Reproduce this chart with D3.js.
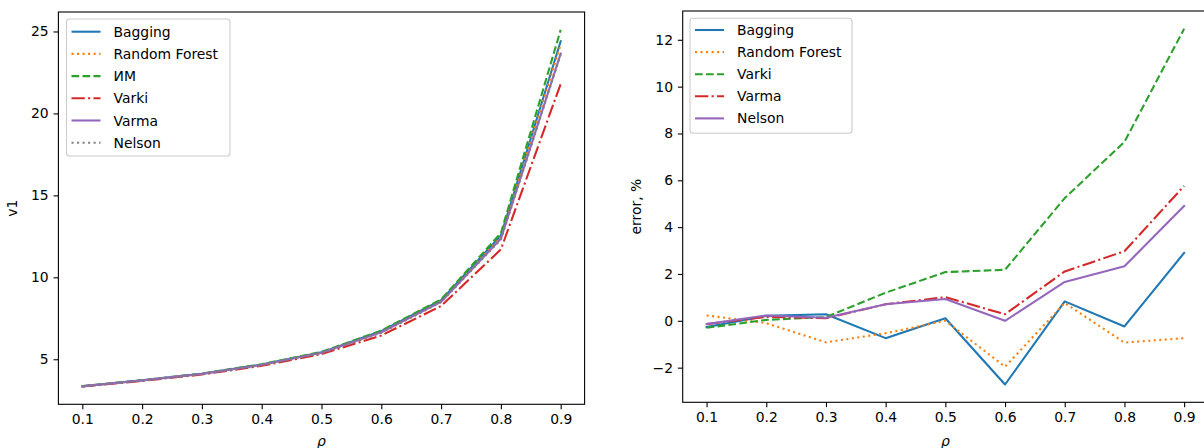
<!DOCTYPE html>
<html>
<head>
<meta charset="utf-8">
<script src="https://cdn.jsdelivr.net/npm/d3@7"></script>
<style>
  body { margin: 0; background: #fff; }
  svg text { font-family: "DejaVu Sans", sans-serif; fill: #000; }
</style>
</head>
<body>
<script>
'use strict'

// x values (rho) shared by both panels
const rho = [0.1, 0.2, 0.3, 0.4, 0.5, 0.6, 0.7, 0.8, 0.9]

// left panel: v1
const v1Names = ['Bagging', 'Random Forest', 'ИМ', 'Varki', 'Varma', 'Nelson']
const v1Bagging = [3.35, 3.72, 4.12, 4.68, 5.42, 6.72, 8.60, 12.55, 24.40]
const v1RandomForest = [3.36, 3.71, 4.11, 4.66, 5.40, 6.65, 8.55, 12.45, 24.20]
const v1IM = [3.36, 3.72, 4.13, 4.70, 5.45, 6.75, 8.65, 12.70, 25.10]
const v1Varki = [3.34, 3.68, 4.07, 4.60, 5.32, 6.45, 8.25, 11.70, 21.80]
const v1Varma = [3.35, 3.71, 4.11, 4.66, 5.40, 6.65, 8.50, 12.35, 23.65]
const v1Nelson = [3.35, 3.70, 4.10, 4.65, 5.38, 6.62, 8.48, 12.30, 23.60]
const v1Ticks = [5, 10, 15, 20, 25]

// right panel: error, %
const errNames = ['Bagging', 'Random Forest', 'Varki', 'Varma', 'Nelson']
const errBagging = [-0.27, 0.21, 0.28, -0.74, 0.11, -2.72, 0.83, -0.24, 2.90]
const errRandomForest = [0.23, -0.10, -0.92, -0.53, 0.00, -1.96, 0.76, -0.93, -0.74]
const errVarki = [-0.30, 0.04, 0.16, 1.20, 2.08, 2.18, 5.24, 7.64, 12.47]
const errVarma = [-0.14, 0.17, 0.11, 0.71, 1.01, 0.28, 2.11, 2.97, 5.76]
const errNelson = [-0.14, 0.23, 0.13, 0.71, 0.93, 0.00, 1.66, 2.33, 4.90]
const errTicks = [-2, 0, 2, 4, 6, 8, 10, 12]

// line styles (matplotlib defaults, lw 1.5pt at 100dpi)
const styles = {
  'Bagging':       { color: '#1f77b4', dash: null },
  'Random Forest': { color: '#ff7f0e', dash: '2.08,3.44' },
  'ИМ':            { color: '#2ca02c', dash: '7.7,3.3' },
  'Varki':         { color: '#d62728', dash: '13.3,3.3,2.08,3.3' },
  'Varma':         { color: '#9467bd', dash: null },
  'Nelson':        { color: '#7f7f7f', dash: '2.08,3.44' }
}
const errStyles = {
  'Bagging': styles['Bagging'],
  'Random Forest': styles['Random Forest'],
  'Varki': styles['ИМ'],
  'Varma': styles['Varki'],
  'Nelson': styles['Varma']
}

const W = 1204, H = 448
const FS = 13.9
const tickLen = 4.86

const svg = d3.select('body').append('svg')
  .attr('width', W)
  .attr('height', H)

function panel(opts) {
  const { box, series, names, styleMap, yTicks, yFmt, yLabel, yLabelX, legend } = opts

  const allY = series.flat()
  const [lo, hi] = d3.extent(allY)
  const pad = (hi - lo) * 0.05

  const x = d3.scaleLinear()
    .domain([0.1 - 0.04, 0.9 + 0.04])
    .range([box.left, box.right])
  const y = d3.scaleLinear()
    .domain([lo - pad, hi + pad])
    .range([box.bottom, box.top])

  const g = svg.append('g')

  // lines
  const line = d3.line()
    .x((d, i) => x(rho[i]))
    .y(d => y(d))

  series.forEach((vals, k) => {
    const st = styleMap[names[k]]
    g.append('path')
      .datum(vals)
      .attr('d', line)
      .attr('fill', 'none')
      .attr('stroke', st.color)
      .attr('stroke-width', 2.08)
      .attr('stroke-linejoin', 'round')
      .attr('stroke-linecap', st.dash ? 'butt' : 'square')
      .attr('stroke-dasharray', st.dash)
  })

  // axes
  const xAxis = d3.axisBottom(x)
    .tickValues(rho)
    .tickFormat(d3.format('.1f'))
    .tickSize(tickLen)
    .tickPadding(4.86)
  const yAxis = d3.axisLeft(y)
    .tickValues(yTicks)
    .tickFormat(yFmt)
    .tickSize(tickLen)
    .tickPadding(4.86)

  const gx = g.append('g')
    .attr('transform', 'translate(0,' + box.bottom + ')')
    .call(xAxis)
  const gy = g.append('g')
    .attr('transform', 'translate(' + box.left + ',0)')
    .call(yAxis)

  ;[gx, gy].forEach(a => {
    a.select('.domain').remove()
    a.selectAll('line').attr('stroke', '#000').attr('stroke-width', 1.1)
    a.selectAll('text')
      .style('font-family', '"DejaVu Sans", sans-serif')
      .style('font-size', FS + 'px')
      .attr('fill', '#000')
  })

  // spines
  g.append('rect')
    .attr('x', box.left)
    .attr('y', box.top)
    .attr('width', box.right - box.left)
    .attr('height', box.bottom - box.top)
    .attr('fill', 'none')
    .attr('stroke', '#000')
    .attr('stroke-width', 1.1)

  // axis labels
  g.append('text')
    .attr('x', (box.left + box.right) / 2)
    .attr('y', 446)
    .attr('text-anchor', 'middle')
    .style('font-size', FS + 'px')
    .style('font-style', 'italic')
    .text('ρ')

  g.append('text')
    .attr('transform', 'translate(' + yLabelX + ',' + (box.top + box.bottom) / 2 + ') rotate(-90)')
    .attr('text-anchor', 'middle')
    .style('font-size', FS + 'px')
    .text(yLabel)

  // legend
  const lg = g.append('g')
  lg.append('rect')
    .attr('x', legend.x)
    .attr('y', legend.y)
    .attr('width', legend.w)
    .attr('height', legend.h)
    .attr('rx', 3)
    .attr('fill', '#fff')
    .attr('fill-opacity', 0.8)
    .attr('stroke', '#cccccc')
    .attr('stroke-width', 1.1)

  names.forEach((n, i) => {
    const st = styleMap[n]
    const cy = legend.row0 + i * legend.step
    lg.append('line')
      .attr('x1', legend.x + 5)
      .attr('x2', legend.x + 5 + 29)
      .attr('y1', cy)
      .attr('y2', cy)
      .attr('stroke', st.color)
      .attr('stroke-width', 2.08)
      .attr('stroke-dasharray', st.dash)
    lg.append('text')
      .attr('x', legend.x + 47)
      .attr('y', cy + 5)
      .style('font-size', FS + 'px')
      .text(n)
  })
}

panel({
  box: { left: 58.4, right: 584.6, top: 12, bottom: 404.3 },
  series: [v1Bagging, v1RandomForest, v1IM, v1Varki, v1Varma, v1Nelson],
  names: v1Names,
  styleMap: styles,
  yTicks: v1Ticks,
  yFmt: d3.format('d'),
  yLabel: 'v1',
  yLabelX: 17,
  legend: { x: 66.5, y: 19, w: 163.5, h: 137, row0: 31.7, step: 22.2 }
})

panel({
  box: { left: 682.7, right: 1208, top: 11, bottom: 402.3 },
  series: [errBagging, errRandomForest, errVarki, errVarma, errNelson],
  names: errNames,
  styleMap: errStyles,
  yTicks: errTicks,
  yFmt: d => (d < 0 ? '\u2212' : '') + Math.abs(d),
  yLabel: 'error, %',
  yLabelX: 641,
  legend: { x: 690, y: 18.3, w: 162, h: 115, row0: 30, step: 22.1 }
})
</script>
</body>
</html>
